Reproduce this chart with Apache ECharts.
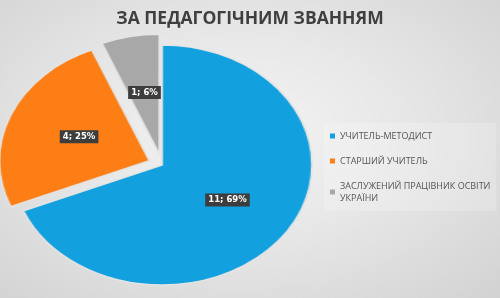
<!DOCTYPE html>
<html>
<head>
<meta charset="utf-8">
<script src="https://cdn.jsdelivr.net/npm/echarts@6/dist/echarts.min.js"></script>
<style>
  html, body { margin: 0; padding: 0; }
  #wrap {
    position: relative; width: 500px; height: 298px; overflow: hidden;
    background: radial-gradient(ellipse at 48% 45%, #f4f4f4 0%, #e7e7e7 45%, #d2d2d2 100%);
  }
  #pie, #top { position: absolute; left: 0; top: 0; width: 500px; height: 298px; }
  #pie { transform: scaleX(1.25); transform-origin: 162px 165px; }
</style>
</head>
<body>
<div id="wrap"><div id="pie"></div><div id="top"></div></div>
<script>
const titleText = 'ЗА ПЕДАГОГІЧНИМ ЗВАННЯМ';
const categories = ['УЧИТЕЛЬ-МЕТОДИСТ', 'СТАРШИЙ УЧИТЕЛЬ', 'ЗАСЛУЖЕНИЙ ПРАЦІВНИК ОСВІТИ УКРАЇНИ'];
const values = [11, 4, 1];
const exploded = [false, true, true];
const colors = ['#12a0de', '#fd7e15', '#a8a8a8'];

const CX = 162, CY = 165, R = 120, STRETCH = 1.25;

const pieData = categories.map((name, i) => ({
  name, value: values[i], selected: exploded[i],
  itemStyle: { color: colors[i] }
}));

const baseSeries = {
  type: 'pie',
  center: [CX, CY],
  radius: R,
  startAngle: 90,
  clockwise: true,
  selectedMode: 'multiple',
  selectedOffset: 11,
  percentPrecision: 0,
  avoidLabelOverlap: false,
  emphasis: { disabled: true },
  labelLine: { show: false },
  animation: false
};

const pieChart = echarts.init(document.getElementById('pie'), null, { renderer: 'canvas' });
pieChart.setOption({
  animation: false,
  series: [Object.assign({}, baseSeries, {
    data: pieData,
    itemStyle: { borderColor: '#e4e4e4', borderWidth: 1.5 },
    label: { show: false }
  })]
});

function wrapName(name) {
  if (name.length <= 30) return name;
  const k = name.lastIndexOf(' ');
  return name.slice(0, k) + '\n' + name.slice(k + 1);
}

const topChart = echarts.init(document.getElementById('top'), null, { renderer: 'canvas' });
topChart.setOption({
  animation: false,
  title: {
    text: titleText, left: 'center', top: 5,
    textStyle: { fontFamily: 'Open Sans', fontWeight: 'bold', fontSize: 17.5, color: '#3f3f3f' }
  },
  legend: {
    orient: 'vertical', left: 324, top: 123,
    padding: [7, 6, 7, 6],
    backgroundColor: 'rgba(255,255,255,0.2)',
    itemWidth: 5, itemHeight: 5, itemGap: 13,
    icon: 'rect',
    selectedMode: false,
    formatter: wrapName,
    textStyle: { fontFamily: 'Open Sans', fontSize: 9, color: '#555555', lineHeight: 12 },
    data: categories.map((name, i) => ({
      name,
      itemStyle: { color: colors[i], opacity: 1 }
    }))
  },
  series: [Object.assign({}, baseSeries, {
    data: categories.map((name, i) => ({
      name, value: values[i], selected: exploded[i],
      itemStyle: { color: 'rgba(0,0,0,0)' }
    })),
    label: {
      show: true, position: 'inside',
      formatter: '{c}; {d}%',
      fontFamily: 'DejaVu Sans', fontWeight: 'bold', fontSize: 8.5,
      color: '#ffffff', backgroundColor: '#3d3d3d', padding: [2, 3, 2, 3]
    },
    labelLayout: function (p) {
      const lc = p.labelRect.x + p.labelRect.width / 2;
      return { dx: (lc - CX) * (STRETCH - 1) };
    }
  })]
});
</script>
</body>
</html>
